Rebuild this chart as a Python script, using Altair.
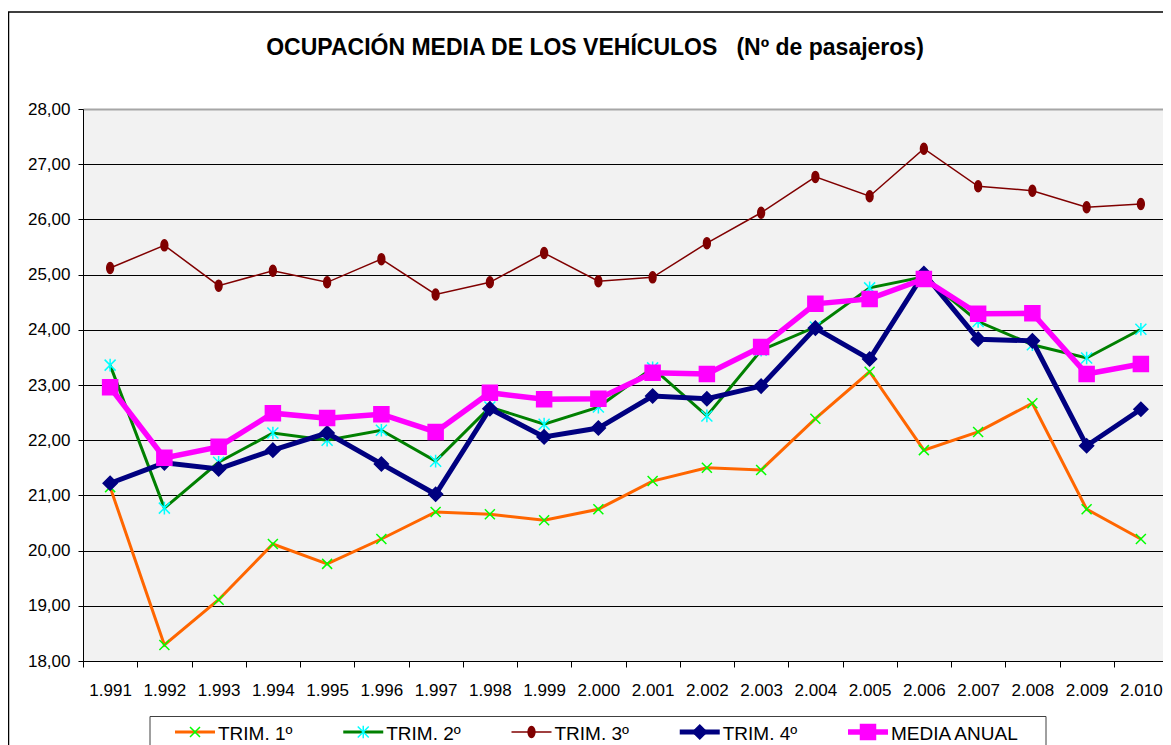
import altair as alt
import pandas as pd

FONT = "Liberation Sans, Arial, sans-serif"

years = ["1.991", "1.992", "1.993", "1.994", "1.995", "1.996", "1.997", "1.998", "1.999", "2.000",
         "2.001", "2.002", "2.003", "2.004", "2.005", "2.006", "2.007", "2.008", "2.009", "2.010"]
series_names = ["TRIM. 1º", "TRIM. 2º", "TRIM. 3º", "TRIM. 4º", "MEDIA ANUAL"]

trim1 = [21.15, 18.29, 19.11, 20.12, 19.76, 20.21, 20.70, 20.66, 20.55, 20.75,
         21.26, 21.50, 21.46, 22.39, 23.24, 21.82, 22.15, 22.67, 20.75, 20.21]
trim2 = [23.36, 20.77, 21.60, 22.13, 22.00, 22.18, 21.62, 22.60, 22.29, 22.60,
         23.31, 22.44, 23.63, 24.05, 24.76, 24.96, 24.15, 23.73, 23.49, 24.01]
trim3 = [25.12, 25.53, 24.80, 25.07, 24.86, 25.28, 24.64, 24.86, 25.39, 24.88,
         24.95, 25.57, 26.12, 26.77, 26.42, 27.28, 26.60, 26.52, 26.22, 26.28]
trim4 = [21.22, 21.59, 21.48, 21.82, 22.13, 21.57, 21.02, 22.57, 22.06, 22.22,
         22.80, 22.75, 22.98, 24.03, 23.47, 25.02, 23.83, 23.80, 21.90, 22.56]
media = [22.96, 21.68, 21.88, 22.49, 22.40, 22.47, 22.15, 22.86, 22.74, 22.75,
         23.22, 23.20, 23.69, 24.47, 24.56, 24.92, 24.29, 24.30, 23.20, 23.38]

y_ticks = [18, 19, 20, 21, 22, 23, 24, 25, 26, 27, 28]
title_text = "OCUPACIÓN MEDIA DE LOS VEHÍCULOS\u00a0\u00a0\u00a0(Nº de pasajeros)"

# styles
line_colors = ["#ff6600", "#008000", "#800000", "#000080", "#ff00ff"]
marker_colors = ["#00ff00", "#00ffff", "#800000", "#000080", "#ff00ff"]
line_widths = [3, 3, 1.5, 5, 5.5]
X_PATH = "M-1,-1L1,1M-1,1L1,-1"
AST_PATH = "M-1,-1L1,1M-1,1L1,-1M0,-1.15L0,1.15"
ELL_PATH = "M0,-1A0.62,1,0,1,1,0,1A0.62,1,0,1,1,0,-1Z"
marker_shapes = [X_PATH, AST_PATH, ELL_PATH, "diamond", "square"]
marker_sizes = [100, 121, 121, 196, 225]

rows = []
for name, vals in zip(series_names, [trim1, trim2, trim3, trim4, media]):
    for yr, v in zip(years, vals):
        rows.append({"year": yr, "serie": name, "value": v})
df = pd.DataFrame(rows)
leg_df = pd.DataFrame({"serie": series_names})
one_df = pd.DataFrame({"t": [title_text]})

ser_color = alt.Color("serie:N", scale=alt.Scale(domain=series_names, range=line_colors), legend=None)
ser_width = alt.StrokeWidth("serie:N", scale=alt.Scale(type="ordinal", domain=series_names, range=line_widths), legend=None)
ser_fill = alt.Fill("serie:N", scale=alt.Scale(domain=series_names, range=marker_colors), legend=None)
ser_stroke = alt.Stroke("serie:N", scale=alt.Scale(domain=series_names, range=marker_colors), legend=None)
ser_shape = alt.Shape("serie:N", scale=alt.Scale(domain=series_names, range=marker_shapes), legend=None)
ser_size = alt.Size("serie:N", scale=alt.Scale(type="ordinal", domain=series_names, range=marker_sizes), legend=None)

X = alt.X("year:N", sort=years, bandPosition=0.5,
          scale=alt.Scale(type="band", paddingInner=0, paddingOuter=0, range=[0, 1085]),
          axis=alt.Axis(tickBand="extent", labelAngle=0, labelFontSize=17, labelFont=FONT,
                        labelColor="black", tickColor="black", tickSize=6, labelPadding=15,
                        domainColor="black", title=None, grid=False))
Y = alt.Y("value:Q", scale=alt.Scale(domain=[18, 28], zero=False, nice=False),
          axis=alt.Axis(values=y_ticks, format=".2f", labelExpr="replace(datum.label, '.', ',')",
                        grid=True,
                        gridColor={"condition": {"test": "datum.value == 28", "value": "#a6a6a6"},
                                   "value": "#000000"},
                        gridWidth={"condition": {"test": "datum.value == 28", "value": 2},
                                   "value": 1},
                        domainColor="black", tickColor="black", tickSize=5,
                        labelPadding=8, labelFontSize=17, labelFont=FONT, labelColor="black",
                        title=None))

base = alt.Chart(df)
data_layers = []
for name in series_names:
    sub = base.transform_filter(alt.datum.serie == name)
    data_layers.append(sub.mark_line(strokeJoin="miter").encode(x=X, y=Y, color=ser_color, strokeWidth=ser_width))
    data_layers.append(sub.mark_point(filled=True, opacity=1, strokeWidth=1.5).encode(
        x=X, y=Y, shape=ser_shape, size=ser_size, fill=ser_fill, stroke=ser_stroke))
data_group = alt.layer(*data_layers)

LX = alt.X("serie:N", scale=alt.Scale(type="point", domain=series_names, range=[112, 785], padding=0), axis=None)
leg = alt.Chart(leg_df)
leg_box = alt.Chart(one_df).mark_rect(fill="white", stroke="#404040", strokeWidth=1).encode(
    x=alt.value(67), x2=alt.value(963), y=alt.value(607.5), y2=alt.value(720))
leg_rules = leg.mark_rule(xOffset=-20, x2Offset=20).encode(
    x=LX, x2="serie:N", y=alt.value(623), color=ser_color, strokeWidth=ser_width)
leg_pts = leg.mark_point(filled=True, opacity=1, strokeWidth=1.5).encode(
    x=LX, y=alt.value(623), shape=ser_shape, size=ser_size, fill=ser_fill, stroke=ser_stroke)
leg_txt = leg.mark_text(align="left", baseline="alphabetic", dx=23, fontSize=19, font=FONT, color="black").encode(
    x=LX, y=alt.value(630.5), text="serie:N")
legend_group = alt.layer(leg_box, leg_rules, leg_pts, leg_txt)

frame = alt.Chart(one_df).mark_rect(fillOpacity=0, stroke="#000000", strokeWidth=1.5).encode(
    x=alt.value(-74.5), x2=alt.value(1100), y=alt.value(-97), y2=alt.value(700))
title = alt.Chart(one_df).mark_text(align="center", baseline="alphabetic", fontSize=23,
                                    fontWeight="bold", font=FONT, color="black").encode(
    x=alt.value(512), y=alt.value(-54), text="t:N")

chart = alt.layer(frame, title, data_group, legend_group).resolve_scale(x="independent").properties(
    width=1080, height=552,
    autosize=alt.AutoSizeParams(type="none"),
    padding={"left": 75, "top": 101, "right": 0, "bottom": 84},
).configure_view(fill="#f2f2f2", stroke="transparent", strokeWidth=0)

chart.save("out.html", embed_options={"renderer": "svg", "actions": False})
